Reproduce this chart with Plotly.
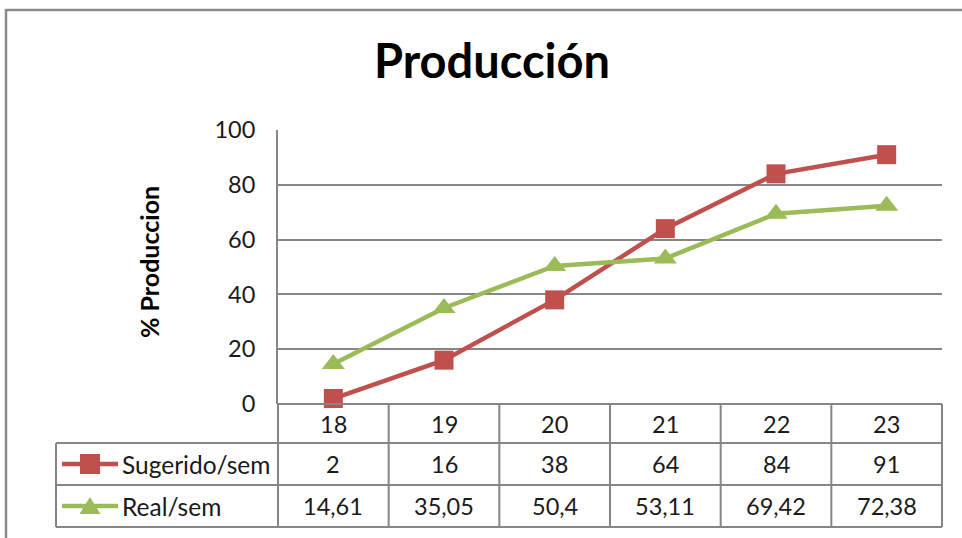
import plotly.graph_objects as go

# Weekly production data
semanas = ["18", "19", "20", "21", "22", "23"]
sugerido = [2, 16, 38, 64, 84, 91]
real = [14.61, 35.05, 50.4, 53.11, 69.42, 72.38]
serie_nombres = ["Sugerido/sem", "Real/sem"]
y_ticks = [0, 20, 40, 60, 80, 100]

ROJO = "#C0504D"
VERDE = "#9BBB59"
GRIS = "#868686"
TEXTO = "#1a1a1a"
FUENTE = "Lato, Carlito, Calibri, sans-serif"

W, H = 962, 538
PL, PR, PT, PB = 278, 942, 130, 404  # plot area in pixels


def fx(px):
    return (px - PL) / (PR - PL)


def fy(py):
    return (PB - py) / (PB - PT)


def fmt(v):
    return f"{v:g}".replace(".", ",")


x_idx = list(range(len(semanas)))

fig = go.Figure()
fig.add_trace(go.Scatter(
    x=x_idx, y=sugerido, mode="lines+markers", name=serie_nombres[0],
    line=dict(color=ROJO, width=4.5),
    marker=dict(symbol="square", size=19, color=ROJO),
    cliponaxis=False,
))
fig.add_trace(go.Scatter(
    x=x_idx, y=real, mode="lines+markers", name=serie_nombres[1],
    line=dict(color=VERDE, width=4.5),
    marker=dict(symbol="triangle-up", size=20, color=VERDE),
    cliponaxis=False,
))

shapes = []
annotations = []

# outer chart border (open to the right and bottom)
shapes.append(dict(type="rect", xref="paper", yref="paper",
                   x0=fx(6), x1=fx(990), y0=fy(10), y1=fy(560),
                   line=dict(color="#8a8a8a", width=2.5), layer="below"))

# data table rows
row_tops = [404, 443, 485]
row_bottom = 527
col_edges = [PL + i * (PR - PL) / len(semanas) for i in range(len(semanas) + 1)]
line_style = dict(color=GRIS, width=2)
# horizontal lines
shapes.append(dict(type="line", xref="paper", yref="paper",
                   x0=fx(PL), x1=fx(PR), y0=fy(row_tops[0]), y1=fy(row_tops[0]), line=line_style))
for yy in row_tops[1:] + [row_bottom]:
    shapes.append(dict(type="line", xref="paper", yref="paper",
                       x0=fx(56), x1=fx(PR), y0=fy(yy), y1=fy(yy), line=line_style))
# vertical lines
for xe in col_edges:
    shapes.append(dict(type="line", xref="paper", yref="paper",
                       x0=fx(xe), x1=fx(xe), y0=fy(row_tops[0]), y1=fy(row_bottom), line=line_style))
shapes.append(dict(type="line", xref="paper", yref="paper",
                   x0=fx(56), x1=fx(56), y0=fy(row_tops[1]), y1=fy(row_bottom), line=line_style))

cell_font = dict(family=FUENTE, size=23.5, color=TEXTO)
row_centers = [424, 464, 506]
rows = [semanas, [fmt(v) for v in sugerido], [fmt(v) for v in real]]
for r, vals in enumerate(rows):
    for i, txt in enumerate(vals):
        annotations.append(dict(x=i, y=fy(row_centers[r]), xref="x", yref="paper",
                                text=txt, showarrow=False, font=cell_font,
                                xanchor="center", yanchor="middle"))

# legend keys inside the table
for k, (nombre, color) in enumerate(zip(serie_nombres, [ROJO, VERDE])):
    yc = row_centers[k + 1]
    shapes.append(dict(type="line", xref="paper", yref="paper",
                       x0=fx(62), x1=fx(118), y0=fy(yc), y1=fy(yc),
                       line=dict(color=color, width=4.5)))
    if k == 0:
        shapes.append(dict(type="rect", xref="paper", yref="paper",
                           x0=fx(80), x1=fx(100), y0=fy(yc - 10), y1=fy(yc + 10),
                           fillcolor=color, line=dict(width=0)))
    else:
        path = (f"M {fx(79.5)} {fy(yc + 8)} L {fx(100.5)} {fy(yc + 8)} "
                f"L {fx(90)} {fy(yc - 9)} Z")
        shapes.append(dict(type="path", xref="paper", yref="paper", path=path,
                           fillcolor=color, line=dict(width=0)))
    annotations.append(dict(x=fx(120), y=fy(yc), xref="paper", yref="paper",
                            text=nombre, showarrow=False,
                            font=dict(family=FUENTE, size=24.5, color=TEXTO),
                            xanchor="left", yanchor="middle"))

# y axis title
annotations.append(dict(x=fx(149), y=fy(262), xref="paper", yref="paper",
                        text="<b>% Produccion</b>", textangle=-90, showarrow=False,
                        font=dict(family=FUENTE, size=25, color="#000000"),
                        xanchor="center", yanchor="middle"))

fig.update_layout(
    width=W, height=H,
    margin=dict(l=PL, r=W - PR, t=PT, b=H - PB),
    paper_bgcolor="white", plot_bgcolor="white",
    showlegend=False,
    title=dict(text="<b>Producción</b>", x=492 / W, xref="container", xanchor="center",
               y=1 - 62 / H, yref="container", yanchor="middle",
               font=dict(family=FUENTE, size=47, color="#000000")),
    xaxis=dict(range=[-0.5, len(semanas) - 0.5], showgrid=False, zeroline=False,
               showticklabels=False, showline=False, fixedrange=True),
    yaxis=dict(range=[0, 100], tickvals=y_ticks, showgrid=True, gridcolor=GRIS,
               gridwidth=2, zeroline=False, showline=True, linecolor=GRIS, linewidth=2,
               ticks="", ticklabelstandoff=16,
               tickfont=dict(family=FUENTE, size=23.5, color=TEXTO)),
    shapes=shapes,
    annotations=annotations,
)

fig.write_html("out.html")
